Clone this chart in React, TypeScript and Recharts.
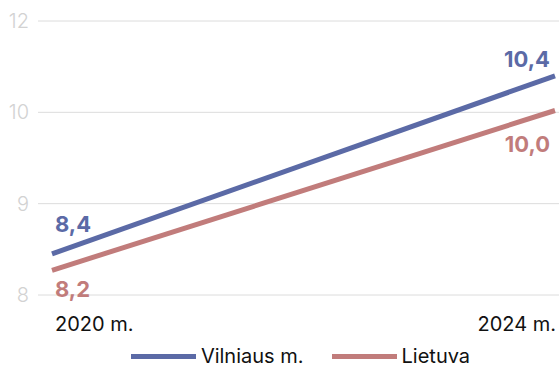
import React from 'react';
import { LineChart, Line, XAxis, YAxis, CartesianGrid, LabelList } from 'recharts';

const categories = ['2020 m.', '2024 m.'];
const vilnius = [8.45, 10.4];
const lietuva = [8.27, 10.02];
const vilniusLabels = ['8,4', '10,4'];
const lietuvaLabels = ['8,2', '10,0'];
const yTicks = [8, 9, 10, 11];
const yTickLabels = ['8', '9', '10', '12'];
const seriesNames = ['Vilniaus m.', 'Lietuva'];

const BLUE = '#5b6aa6';
const RED = '#c17c7b';
const FONT = 'Inter, "Noto Sans", sans-serif';

const data = categories.map((c, i) => ({ cat: c, v: vilnius[i], l: lietuva[i] }));

const YTick = (props: any) => {
  const { y, payload } = props;
  const idx = yTicks.indexOf(payload.value);
  return (
    <text x={29} y={y} dy={7} textAnchor="end" fill="#d2d2d2" fontSize={20} fontFamily={FONT} fontWeight={300}>
      {yTickLabels[idx]}
    </text>
  );
};

const XTick = (props: any) => {
  const { x, y, payload, index } = props;
  const first = index === 0;
  return (
    <text x={first ? x + 3 : x + 1} y={y} dy={28} textAnchor={first ? 'start' : 'end'} fill="#111" fontSize={20} fontFamily={FONT}>
      {payload.value}
    </text>
  );
};

const makeLabel = (labels: string[], color: string, offsets: number[], anchors: string[]) => (props: any) => {
  const { x, y, index } = props;
  return (
    <text x={index === 0 ? x + 3 : x - 5} y={y + offsets[index]} dy={8} textAnchor={anchors[index] as any} fill={color} fontSize={22} fontWeight={700} fontFamily={FONT}>
      {labels[index]}
    </text>
  );
};

export default function App() {
  return (
    <div style={{ position: 'absolute', left: 0, top: 0, width: 559, height: 367, background: '#fff' }}>
      <LineChart width={559} height={367} data={data} margin={{ top: 21, right: 0, bottom: 32, left: 0 }}>
        <CartesianGrid horizontal vertical={false} stroke="#dcdcdc" strokeWidth={1} />
        <XAxis dataKey="cat" tick={<XTick />} tickLine={false} axisLine={false} padding={{ left: 14, right: 4 }} interval={0} height={40} />
        <YAxis domain={[8, 11]} ticks={yTicks} tick={<YTick />} tickLine={false} axisLine={false} width={38} />
        <Line dataKey="v" name={seriesNames[0]} stroke={BLUE} strokeWidth={5} dot={false} isAnimationActive={false}>
          <LabelList content={makeLabel(vilniusLabels, BLUE, [-30, -17], ['start', 'end'])} />
        </Line>
        <Line dataKey="l" name={seriesNames[1]} stroke={RED} strokeWidth={5} dot={false} isAnimationActive={false}>
          <LabelList content={makeLabel(lietuvaLabels, RED, [19, 33], ['start', 'end'])} />
        </Line>
      </LineChart>
      <div style={{ position: 'absolute', top: 344, left: 21, width: 559, display: 'flex', justifyContent: 'center', alignItems: 'center', fontFamily: FONT, fontSize: 20, color: '#111', lineHeight: '24px' }}>
        {seriesNames.map((n, i) => (
          <div key={n} style={{ display: 'flex', alignItems: 'center', marginLeft: i === 0 ? 0 : 28 }}>
            <div style={{ width: 65, height: 5, background: i === 0 ? BLUE : RED, marginRight: 5 }} />
            <span>{n}</span>
          </div>
        ))}
      </div>
    </div>
  );
}
